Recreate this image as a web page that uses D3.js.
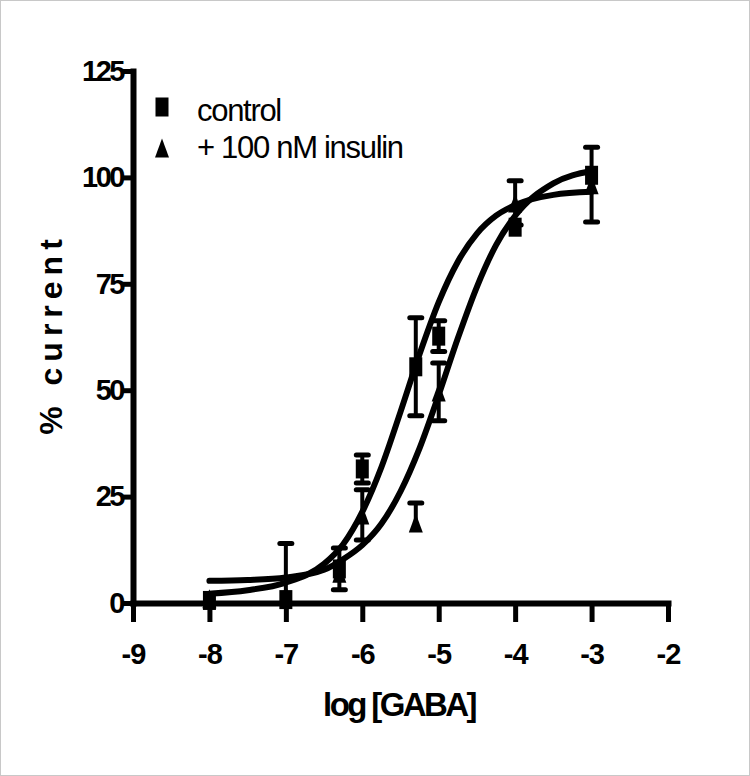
<!DOCTYPE html>
<html>
<head>
<meta charset="utf-8">
<script src="https://cdn.jsdelivr.net/npm/d3@7"></script>
<style>
    body { margin: 0; background: #fff; }
    text { font-family: "Liberation Sans", Arial, sans-serif; fill: #000; }
</style>
</head>
<body>
<script>
(function () {

    //data
    var logGABA = [-8, -7, -6.3, -6, -5.3, -5, -4, -3];

    //control (squares)
    var controlMean = [0.6, 0.8, 8, 31.5, 55.5, 62.7, 88.3, 100.5];
    var controlErrHi = [0, 0, 4.9, 3.3, 11.5, 3.6, 0, 0];
    var controlErrLo = [0, 0, 4.9, 3.3, 11.5, 3.6, 0, 0];

    //+ 100 nM insulin (triangles)
    var insulinMean = [1, 2, 7, 20.7, 18.8, 49.6, 94, 98.3];
    var insulinErrHi = [0, 12, 0, 5.9, 4.7, 6.8, 5.2, 8.8];
    var insulinErrLo = [0, 0, 0, 5.9, 0, 6.8, 5.2, 8.8];

    //fitted curves
    var curveX = [-8, -7.5, -7, -6.5, -6.25, -6, -5.75, -5.5, -5.25, -5, -4.75, -4.5, -4.25, -4, -3.5, -3];
    var controlCurve = [2.2, 3.0, 4.8, 9.2, 13.8, 21.4, 31.9, 44.9, 58.5, 70.7, 80.2, 86.8, 91.0, 93.5, 95.9, 96.6];
    var insulinCurve = [5.2, 5.4, 6.0, 7.8, 10.3, 13.6, 18.6, 26.2, 36.4, 48.9, 62.2, 74.3, 84.1, 91.0, 98.6, 101.5];

    //axes
    var xTicks = [-9, -8, -7, -6, -5, -4, -3, -2];
    var xTickLabels = ["-9", "-8", "-7", "-6", "-5", "-4", "-3", "-2"];
    var yTicks = [0, 25, 50, 75, 100, 125];

    var legendLabels = ["control", "+ 100 nM insulin"];

    var width = 750,
        height = 776;

    var svg = d3.select("body")
        .append("svg")
        .attr("width", width)
        .attr("height", height);

    //thin grey frame round the picture
    svg.append("rect")
        .attr("x", 0.5)
        .attr("y", 0.5)
        .attr("width", width - 1)
        .attr("height", height - 1)
        .attr("fill", "#fff")
        .attr("stroke", "#c8c8c8");

    var x = d3.scaleLinear()
        .domain([-9, -2])
        .range([133, 668]);

    var y = d3.scaleLinear()
        .domain([0, 125])
        .range([603, 71]);

    //x axis
    var xAxis = d3.axisBottom(x)
        .tickValues(xTicks)
        .tickSize(19)
        .tickSizeOuter(0)
        .tickPadding(21)
        .tickFormat(function (d, i) { return xTickLabels[i]; });

    var gx = svg.append("g")
        .attr("class", "axis")
        .attr("transform", "translate(0," + y(0) + ")")
        .call(xAxis);

    gx.selectAll("text")
        .style("font-size", "29px")
        .style("font-weight", "bold")
        .style("letter-spacing", "-1px");

    //y axis
    var yAxis = d3.axisLeft(y)
        .tickValues(yTicks)
        .tickSize(11)
        .tickSizeOuter(0)
        .tickPadding(-1);

    var gy = svg.append("g")
        .attr("class", "axis")
        .attr("transform", "translate(" + x(-9) + ",0)")
        .call(yAxis);

    gy.selectAll("text")
        .style("font-size", "29px")
        .style("font-weight", "bold")
        .style("letter-spacing", "-2.5px");

    svg.selectAll(".axis .domain")
        .attr("stroke", "#000")
        .attr("stroke-width", 6)
        .attr("stroke-linecap", "square");

    svg.selectAll(".axis .tick line")
        .attr("stroke", "#000")
        .attr("stroke-width", 5);

    //axis titles
    svg.append("text")
        .attr("x", 399)
        .attr("y", 716)
        .attr("text-anchor", "middle")
        .style("font-size", "33px")
        .style("font-weight", "bold")
        .style("letter-spacing", "-2.6px")
        .text("log [GABA]");

    svg.append("text")
        .attr("transform", "translate(62,334) rotate(-90)")
        .attr("text-anchor", "middle")
        .style("font-size", "32px")
        .style("font-weight", "bold")
        .style("letter-spacing", "6px")
        .text("% current");

    //fitted curves
    var line = d3.line()
        .x(function (d) { return x(d[0]); })
        .y(function (d) { return y(d[1]); })
        .curve(d3.curveMonotoneX);

    [controlCurve, insulinCurve].forEach(function (vals) {
        svg.append("path")
            .datum(d3.zip(curveX, vals))
            .attr("d", line)
            .attr("fill", "none")
            .attr("stroke", "#000")
            .attr("stroke-width", 6)
            .attr("stroke-linecap", "round");
    });

    //error bars, clipped at the x axis
    function drawErrors(means, hi, lo) {
        var g = svg.append("g")
            .attr("stroke", "#000");
        for (var i = 0; i < means.length; i++) {
            if (!hi[i] && !lo[i]) continue;
            var cx = x(logGABA[i]);
            var top = means[i] + hi[i],
                bot = Math.max(0, means[i] - lo[i]);
            g.append("line")
                .attr("x1", cx).attr("x2", cx)
                .attr("y1", y(top)).attr("y2", y(bot))
                .attr("stroke-width", 4);
            var caps = [];
            if (hi[i]) caps.push(top);
            if (lo[i] && means[i] - lo[i] > 0) caps.push(bot);
            caps.forEach(function (v) {
                g.append("line")
                    .attr("x1", cx - 6).attr("x2", cx + 6)
                    .attr("y1", y(v)).attr("y2", y(v))
                    .attr("stroke-width", 5)
                    .attr("stroke-linecap", "round");
            });
        }
    }

    var trianglePath = "M0,-9.5L7,9.5L-7,9.5Z";

    //control: squares
    drawErrors(controlMean, controlErrHi, controlErrLo);
    svg.append("g")
        .selectAll("rect")
        .data(d3.zip(logGABA, controlMean))
        .enter()
        .append("rect")
        .attr("x", function (d) { return x(d[0]) - 6.5; })
        .attr("y", function (d) { return y(d[1]) - 9.5; })
        .attr("width", 13)
        .attr("height", 19)
        .attr("fill", "#000");

    //insulin: triangles
    drawErrors(insulinMean, insulinErrHi, insulinErrLo);
    svg.append("g")
        .selectAll("path")
        .data(d3.zip(logGABA, insulinMean))
        .enter()
        .append("path")
        .attr("transform", function (d) { return "translate(" + x(d[0]) + "," + y(d[1]) + ")"; })
        .attr("d", trianglePath)
        .attr("fill", "#000");

    //legend
    var legend = svg.append("g")
        .attr("transform", "translate(162,107)");

    legend.append("rect")
        .attr("x", -6.5)
        .attr("y", -9.5)
        .attr("width", 13)
        .attr("height", 19)
        .attr("fill", "#000");

    legend.append("path")
        .attr("transform", "translate(0,41)")
        .attr("d", trianglePath)
        .attr("fill", "#000");

    legend.selectAll("text")
        .data(legendLabels)
        .enter()
        .append("text")
        .attr("x", 35)
        .attr("y", function (d, i) { return 14 + i * 37; })
        .style("font-size", "31px")
        .style("letter-spacing", "-1.3px")
        .text(function (d) { return d; });

})();
</script>
</body>
</html>
